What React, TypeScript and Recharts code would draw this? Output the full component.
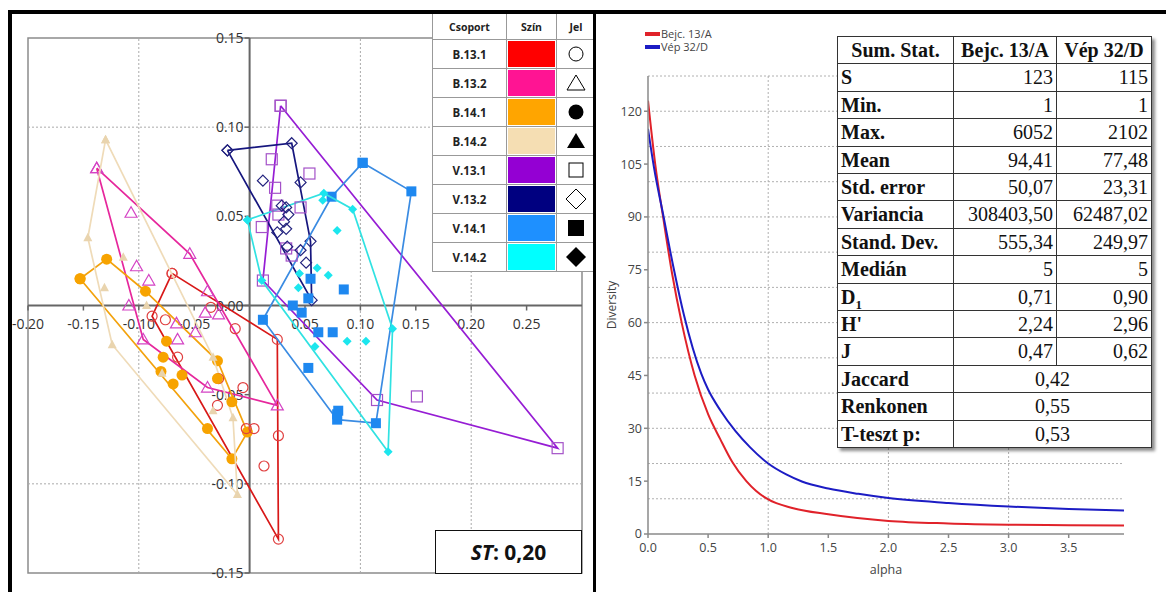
import React from 'react'
import {
  ScatterChart,
  Scatter,
  XAxis,
  YAxis,
  ReferenceLine,
  ReferenceArea,
  ReferenceDot,
  LineChart,
  Line,
} from 'recharts'

type Pt = [number, number]

// ordination groups: hull vertices (drawing order) + remaining points
const b131Hull: Pt[] = [[-0.070, 0.018], [0.025, -0.019], [0.026, -0.131], [-0.088, -0.006]]
const b131Pts: Pt[] = [[-0.076, -0.008], [-0.065, -0.029], [-0.035, -0.001], [-0.013, -0.013], [-0.006, -0.046], [-0.029, -0.056], [-0.028, -0.041], [-0.003, -0.069], [0.004, -0.069], [0.026, -0.073], [0.013, -0.090]]

const b132Hull: Pt[] = [[-0.138, 0.077], [-0.054, 0.029], [0.025, -0.056], [-0.038, -0.046], [-0.096, -0.019]]
const b132Pts: Pt[] = [[-0.107, 0.052], [-0.102, 0.022], [-0.091, 0.014], [-0.038, 0.008], [-0.109, 0.000], [-0.066, -0.010], [-0.065, -0.019], [-0.049, -0.015], [-0.040, -0.004], [-0.028, -0.005]]

const b141Hull: Pt[] = [[-0.153, 0.015], [-0.129, 0.026], [-0.094, 0.008], [-0.029, -0.031], [-0.002, -0.071], [-0.016, -0.086]]
const b141Pts: Pt[] = [[-0.075, -0.020], [-0.078, -0.029], [-0.080, -0.037], [-0.069, -0.044], [-0.061, -0.039], [-0.029, -0.041], [-0.016, -0.054], [-0.038, -0.069]]

const b142Hull: Pt[] = [[-0.130, 0.093], [-0.033, -0.029], [-0.015, -0.063], [-0.011, -0.106], [-0.124, -0.022], [-0.146, 0.038]]
const b142Pts: Pt[] = [[-0.114, 0.027], [-0.131, 0.010], [-0.093, 0.000], [-0.079, -0.038], [-0.033, -0.059]]

const v131Hull: Pt[] = [[0.028, 0.112], [0.278, -0.080], [0.115, -0.053], [0.012, 0.014]]
const v131Pts: Pt[] = [[0.020, 0.082], [0.054, 0.074], [0.023, 0.066], [0.025, 0.056], [0.026, 0.051], [0.046, 0.055], [0.011, 0.044], [0.033, 0.032], [0.038, 0.028], [0.151, -0.051]]

const v132Hull: Pt[] = [[-0.020, 0.087], [0.038, 0.091], [0.055, 0.036], [0.056, 0.003]]
const v132Pts: Pt[] = [[0.012, 0.070], [0.046, 0.069], [0.029, 0.056], [0.033, 0.055], [0.035, 0.051], [0.031, 0.047], [0.033, 0.043], [0.025, 0.041], [0.034, 0.033], [0.046, 0.031], [0.051, 0.024]]

const v141Hull: Pt[] = [[0.102, 0.080], [0.146, 0.064], [0.114, -0.066], [0.079, -0.064], [0.012, -0.008], [0.074, 0.061]]
const v141Pts: Pt[] = [[0.080, -0.059], [0.079, -0.061], [0.053, -0.035], [0.062, -0.015], [0.075, -0.015], [0.039, 0.000], [0.047, -0.004], [0.053, 0.004], [0.055, 0.015], [0.085, 0.009]]

const v142Hull: Pt[] = [[-0.002, 0.048], [0.067, 0.063], [0.093, 0.054], [0.129, -0.013], [0.125, -0.082], [0.011, 0.014]]
const v142Pts: Pt[] = [[0.066, 0.059], [0.079, 0.042], [0.061, 0.021], [0.071, 0.017], [0.045, 0.018], [0.044, 0.010], [0.088, -0.020], [0.105, -0.020], [0.059, -0.023]]

const scatterXTicks = [-0.2, -0.15, -0.1, -0.05, 0.05, 0.1, 0.15, 0.2, 0.25]
const scatterYTicks = [-0.15, -0.1, -0.05, 0, 0.05, 0.1, 0.15]

// diversity profile (alpha, value)
const bejcAlpha = [0, 0.06, 0.13, 0.2, 0.28, 0.388, 0.5, 0.6, 0.7, 0.818, 0.9, 1.0, 1.2, 1.5, 2.0, 2.5, 3.0, 3.5, 3.96]
const bejcDiv = [123, 105, 89, 74, 60, 45, 34, 27, 20.5, 15, 12.2, 9.8, 7.4, 5.6, 3.7, 3.0, 2.65, 2.5, 2.4]
const vepAlpha = [0, 0.05, 0.13, 0.21, 0.3, 0.443, 0.5, 0.6, 0.728, 0.85, 1.0, 1.15, 1.28, 1.5, 1.75, 2.0, 2.5, 3.0, 3.5, 3.96]
const vepDiv = [115, 104, 90, 76, 62, 45.5, 41, 35.2, 29.2, 24.6, 20.0, 16.9, 14.9, 12.9, 11.4, 10.2, 8.8, 7.8, 7.1, 6.7]
const alphaTicks = [0, 0.5, 1, 1.5, 2, 2.5, 3, 3.5]
const divTicks = [0, 15, 30, 45, 60, 75, 90, 105, 120]

const statLabels = ['S', 'Min.', 'Max.', 'Mean', 'Std. error', 'Variancia', 'Stand. Dev.', 'Medián', 'D1', "H'", 'J']
const statBejc = ['123', '1', '6052', '94,41', '50,07', '308403,50', '555,34', '5', '0,71', '2,24', '0,47']
const statVep = ['115', '1', '2102', '77,48', '23,31', '62487,02', '249,97', '5', '0,90', '2,96', '0,62']
const pairLabels = ['Jaccard', 'Renkonen', 'T-teszt p:']
const pairValues = ['0,42', '0,55', '0,53']

const groups = [
  { name: 'B.13.1', swatch: '#ff0000', line: '#d81818', mark: '#e04040', kind: 'circleOpen', hull: b131Hull, pts: b131Pts },
  { name: 'B.13.2', swatch: '#ff1493', line: '#e6279c', mark: '#d443c4', kind: 'triOpen', hull: b132Hull, pts: b132Pts },
  { name: 'B.14.1', swatch: '#ffa500', line: '#f3a20c', mark: '#f7a300', kind: 'circle', hull: b141Hull, pts: b141Pts },
  { name: 'B.14.2', swatch: '#f5deb3', line: '#efdbb8', mark: '#e9d4ae', kind: 'tri', hull: b142Hull, pts: b142Pts },
  { name: 'V.13.1', swatch: '#9400d3', line: '#961dd4', mark: '#a452c8', kind: 'squareOpen', hull: v131Hull, pts: v131Pts },
  { name: 'V.13.2', swatch: '#000080', line: '#16167e', mark: '#22227e', kind: 'diamondOpen', hull: v132Hull, pts: v132Pts },
  { name: 'V.14.1', swatch: '#1e90ff', line: '#3a8be2', mark: '#1e88f0', kind: 'square', hull: v141Hull, pts: v141Pts },
  { name: 'V.14.2', swatch: '#00ffff', line: '#30e2e2', mark: '#1ce6ee', kind: 'diamond', hull: v142Hull, pts: v142Pts },
]

const toXY = (arr: Pt[]) => arr.map(([x, y]) => ({ x, y }))
const fmt2 = (v: number) => v.toFixed(2)
const sans = "'Open Sans', 'Noto Sans', sans-serif"
const serif = "'Liberation Serif', 'DejaVu Serif', serif"

function drawMark(kind: string, c: string, cx: number, cy: number) {
  switch (kind) {
    case 'circleOpen':
      return <circle cx={cx} cy={cy} r={5} fill="none" stroke={c} strokeWidth={1.2} />
    case 'triOpen':
      return <polygon points={`${cx},${cy - 6} ${cx - 6},${cy + 4.5} ${cx + 6},${cy + 4.5}`} fill="none" stroke={c} strokeWidth={1.2} />
    case 'circle':
      return <circle cx={cx} cy={cy} r={5.5} fill={c} />
    case 'tri':
      return <polygon points={`${cx},${cy - 5} ${cx - 4.5},${cy + 3.5} ${cx + 4.5},${cy + 3.5}`} fill={c} />
    case 'squareOpen':
      return <rect x={cx - 5.5} y={cy - 5.5} width={11} height={11} fill="none" stroke={c} strokeWidth={1.2} />
    case 'diamondOpen':
      return <polygon points={`${cx},${cy - 5.5} ${cx + 5.5},${cy} ${cx},${cy + 5.5} ${cx - 5.5},${cy}`} fill="none" stroke={c} strokeWidth={1.2} />
    case 'square':
      return <rect x={cx - 5} y={cy - 5} width={10} height={10} fill={c} />
    default:
      return <polygon points={`${cx},${cy - 4.5} ${cx + 4.5},${cy} ${cx},${cy + 4.5} ${cx - 4.5},${cy}`} fill={c} />
  }
}

const markShape = (kind: string, c: string) => (p: any) => {
  if (p.cx == null || p.cy == null) return <g />
  return drawMark(kind, c, p.cx, p.cy)
}

function LegendSymbol({ kind }: { kind: string }) {
  const k = kind
  let el: React.ReactNode
  if (k === 'circleOpen') el = <circle cx={10} cy={10} r={7} fill="none" stroke="#000" strokeWidth={1} />
  else if (k === 'triOpen') el = <polygon points="10,2 1,17 19,17" fill="none" stroke="#000" strokeWidth={1} />
  else if (k === 'circle') el = <circle cx={10} cy={10} r={7.5} fill="#000" />
  else if (k === 'tri') el = <polygon points="10,2 1,17 19,17" fill="#000" />
  else if (k === 'squareOpen') el = <rect x={3} y={3} width={14} height={14} fill="none" stroke="#000" strokeWidth={1} />
  else if (k === 'diamondOpen') el = <polygon points="10,0 20,10 10,20 0,10" fill="none" stroke="#000" strokeWidth={1} />
  else if (k === 'square') el = <rect x={2} y={2} width={16} height={16} fill="#000" />
  else el = <polygon points="10,0 20,10 10,20 0,10" fill="#000" />
  return <svg width={20} height={20} style={{ display: 'block', margin: '0 auto' }}>{el}</svg>
}

function OrdinationPanel() {
  return (
    <div style={{ position: 'absolute', left: 0, top: 0 }}>
      <ScatterChart width={594} height={592} margin={{ top: 38, right: 12, bottom: 19, left: 28 }}>
        <XAxis type="number" dataKey="x" domain={[-0.2, 0.3]} hide allowDataOverflow />
        <YAxis type="number" dataKey="y" domain={[-0.15, 0.15]} hide allowDataOverflow />
        <ReferenceArea x1={-0.2} x2={0.3} y1={-0.15} y2={0.15} fill="none" stroke="#8c8c8c" strokeWidth={1.5} ifOverflow="visible" />
        {[-0.1, 0.1, 0.2].map(v => (
          <ReferenceLine key={'gx' + v} x={v} stroke="#aaa" strokeDasharray="2 2" />
        ))}
        {[0.1, -0.1].map(v => (
          <ReferenceLine key={'gy' + v} y={v} stroke="#aaa" strokeDasharray="2 2" />
        ))}
        <ReferenceLine x={0} stroke="#666" strokeWidth={2} />
        <ReferenceLine y={0} stroke="#666" strokeWidth={2} />
        {scatterXTicks.map(v => (
          <ReferenceDot
            key={'xt' + v}
            x={v}
            y={0}
            r={1}
            ifOverflow="visible"
            shape={(p: any) => (
              <g>
                <line x1={p.cx} x2={p.cx} y1={p.cy} y2={p.cy + 5} stroke="#666" strokeWidth={1.5} />
                <text x={p.cx} y={p.cy + 23} textAnchor="middle" fontSize={14} fill="#333" fontFamily={sans}>{fmt2(v)}</text>
              </g>
            )}
          />
        ))}
        {scatterYTicks.map(v => (
          <ReferenceDot
            key={'yt' + v}
            x={0}
            y={v}
            r={1}
            ifOverflow="visible"
            shape={(p: any) => (
              <g>
                <line x1={p.cx - 5} x2={p.cx} y1={p.cy} y2={p.cy} stroke="#666" strokeWidth={1.5} />
                <text x={p.cx - 6} y={p.cy + 5} textAnchor="end" fontSize={14} fill="#333" fontFamily={sans}>{fmt2(v)}</text>
              </g>
            )}
          />
        ))}
        {groups.map(g => (
          <Scatter
            key={g.name + 'h'}
            name={g.name}
            data={toXY([...g.hull, g.hull[0]])}
            line={{ stroke: g.line, strokeWidth: 1.7 }}
            lineType="joint"
            shape={markShape(g.kind, g.mark)}
            isAnimationActive={false}
          />
        ))}
        {groups.map(g => (
          <Scatter
            key={g.name + 'p'}
            data={toXY(g.pts)}
            shape={markShape(g.kind, g.mark)}
            isAnimationActive={false}
          />
        ))}
      </ScatterChart>

      <table
        style={{
          position: 'absolute', left: 432, top: 13, width: 163, borderCollapse: 'collapse',
          tableLayout: 'fixed', background: '#fff', fontFamily: sans, fontWeight: 700, fontSize: 11.5, color: '#222',
        }}
      >
        <colgroup>
          <col style={{ width: 74 }} />
          <col style={{ width: 50 }} />
          <col style={{ width: 39 }} />
        </colgroup>
        <tbody>
          <tr style={{ height: 26 }}>
            {['Csoport', 'Szín', 'Jel'].map(h => (
              <td key={h} style={{ border: '1px solid #999', textAlign: 'center', fontSize: 10.5, padding: 0 }}>{h}</td>
            ))}
          </tr>
          {groups.map(g => (
            <tr key={g.name} style={{ height: 28.4 }}>
              <td style={{ border: '1px solid #999', textAlign: 'center', padding: 0 }}>{g.name}</td>
              <td style={{ border: '1px solid #999', padding: '1px 1px' }}>
                <div style={{ background: g.swatch, height: 26 }} />
              </td>
              <td style={{ border: '1px solid #999', padding: 0 }}>
                <LegendSymbol kind={g.kind} />
              </td>
            </tr>
          ))}
        </tbody>
      </table>

      <div
        style={{
          position: 'absolute', left: 435, top: 530, width: 145, height: 42, border: '1.5px solid #111',
          background: '#fff', display: 'flex', alignItems: 'center', justifyContent: 'center',
          fontFamily: sans, fontWeight: 700, fontSize: 21, color: '#111',
        }}
      >
        <span style={{ fontStyle: 'italic' }}>ST</span>: 0,20
      </div>
    </div>
  )
}

function ProfilePanel() {
  const bejcData = bejcAlpha.map((a, i) => ({ a, v: bejcDiv[i] }))
  const vepData = vepAlpha.map((a, i) => ({ a, v: vepDiv[i] }))
  const cell = { border: '1.5px solid #333', padding: '0 3px', height: 26.4, lineHeight: '26.4px', whiteSpace: 'nowrap' as const }
  return (
    <div style={{ position: 'absolute', left: 600, top: 0 }}>
      <LineChart width={566} height={592} margin={{ top: 76, right: 42, bottom: 18, left: 12 }}>
        {[10, 20, 30, 40, 50, 60, 70, 80, 90, 100, 110, 120, 130].map(v => (
          <ReferenceLine key={'h' + v} y={v} stroke="#b0b0b0" strokeDasharray="2 2" />
        ))}
        {[1, 2, 3].map(v => (
          <ReferenceLine key={'v' + v} x={v} stroke="#b0b0b0" strokeDasharray="2 2" />
        ))}
        <XAxis
          type="number"
          dataKey="a"
          domain={[0, 3.96]}
          ticks={alphaTicks}
          allowDataOverflow
          tickFormatter={(v: number) => v.toFixed(1)}
          height={40}
          stroke="#8a8a8a"
          strokeWidth={1.5}
          tickSize={4}
          tickMargin={5}
          tick={{ fontSize: 12.5, fill: '#444', fontFamily: sans }}
          label={{ value: 'alpha', position: 'insideBottom', offset: 0, fontSize: 12.5, fill: '#444', fontFamily: sans }}
        />
        <YAxis
          type="number"
          domain={[0, 130]}
          ticks={divTicks}
          allowDataOverflow
          width={36}
          stroke="#8a8a8a"
          strokeWidth={1.5}
          tickSize={4}
          tick={{ fontSize: 12.5, fill: '#444', fontFamily: sans }}
          label={{ value: 'Diversity', angle: -90, position: 'insideLeft', offset: 0, fontSize: 12, fill: '#444', fontFamily: sans, style: { textAnchor: 'middle' } }}
        />
        <Line data={bejcData} dataKey="v" type="monotone" stroke="#e0222a" strokeWidth={2} dot={false} isAnimationActive={false} />
        <Line data={vepData} dataKey="v" type="monotone" stroke="#1c1cc4" strokeWidth={2} dot={false} isAnimationActive={false} />
      </LineChart>

      <div style={{ position: 'absolute', left: 45, top: 28, fontFamily: sans, fontSize: 11, color: '#444' }}>
        <div style={{ position: 'absolute', top: 0, display: 'flex', alignItems: 'center', height: 12, lineHeight: '12px', whiteSpace: 'nowrap' }}>
          <span style={{ width: 15, height: 4, background: '#e0222a', display: 'inline-block', marginRight: 1 }} />Bejc. 13/A
        </div>
        <div style={{ position: 'absolute', top: 13, display: 'flex', alignItems: 'center', height: 12, lineHeight: '12px', whiteSpace: 'nowrap' }}>
          <span style={{ width: 15, height: 4, background: '#1c1cc4', display: 'inline-block', marginRight: 1 }} />Vép 32/D
        </div>
      </div>

      <table
        style={{
          position: 'absolute', left: 237, top: 36, width: 314, borderCollapse: 'collapse', tableLayout: 'fixed',
          background: '#fff', fontFamily: serif, fontSize: 20, color: '#111', boxShadow: '3px 3px 3px rgba(0,0,0,0.45)',
        }}
      >
        <colgroup>
          <col style={{ width: 116 }} />
          <col style={{ width: 103 }} />
          <col style={{ width: 95 }} />
        </colgroup>
        <tbody>
          <tr>
            {['Sum. Stat.', 'Bejc. 13/A', 'Vép 32/D'].map(h => (
              <td key={h} style={{ ...cell, fontWeight: 700, textAlign: 'center', padding: 0 }}>{h}</td>
            ))}
          </tr>
          {statLabels.map((l, i) => (
            <tr key={l}>
              <td style={{ ...cell, fontWeight: 700 }}>
                {l === 'D1' ? <span>D<sub style={{ fontSize: 13, lineHeight: 0 }}>1</sub></span> : l}
              </td>
              <td style={{ ...cell, textAlign: 'right' }}>{statBejc[i]}</td>
              <td style={{ ...cell, textAlign: 'right' }}>{statVep[i]}</td>
            </tr>
          ))}
          {pairLabels.map((l, i) => (
            <tr key={l}>
              <td style={{ ...cell, fontWeight: 700 }}>{l}</td>
              <td colSpan={2} style={{ ...cell, textAlign: 'center' }}>{pairValues[i]}</td>
            </tr>
          ))}
        </tbody>
      </table>
    </div>
  )
}

export default function App() {
  return (
    <div style={{ position: 'absolute', left: 0, top: 0, width: 1166, height: 592, background: '#fff', overflow: 'hidden' }}>
      <OrdinationPanel />
      <ProfilePanel />
      <div style={{ position: 'absolute', left: 8, top: 10, width: 1170, height: 4, background: '#000' }} />
      <div style={{ position: 'absolute', left: 8, top: 10, width: 4, height: 590, background: '#000' }} />
      <div style={{ position: 'absolute', left: 593, top: 10, width: 3, height: 590, background: '#000' }} />
    </div>
  )
}
